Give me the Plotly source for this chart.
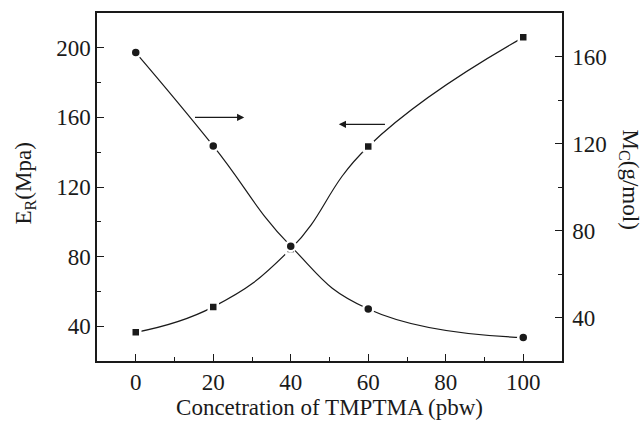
import plotly.graph_objects as go

# Data
conc = [0, 20, 40, 60, 100]                 # Concentration of TMPTMA (pbw)
er_mpa = [36.5, 51.1, 84.4, 143.3, 206.0]   # E_R (MPa), left axis, squares
mc_gmol = [161.8, 118.9, 72.8, 43.9, 30.8]  # M_C (g/mol), right axis, circles

x_ticks = [0, 20, 40, 60, 80, 100]
left_ticks = [40, 80, 120, 160, 200]
right_ticks = [40, 80, 120, 160]

FONT = "Liberation Serif"
INK = "#1a1a1a"

fig = go.Figure()
fig.add_trace(go.Scatter(
    x=conc, y=er_mpa, mode="lines+markers",
    line=dict(color=INK, width=1.2, shape="spline", smoothing=1.3),
    marker=dict(symbol="square", size=9, color=INK, line=dict(color="white", width=2.5)),
    yaxis="y", showlegend=False))
fig.add_trace(go.Scatter(
    x=conc, y=mc_gmol, mode="lines+markers",
    line=dict(color=INK, width=1.2, shape="spline", smoothing=1.3),
    marker=dict(symbol="circle", size=10, color=INK, line=dict(color="white", width=2.5)),
    yaxis="y2", showlegend=False))

axis_common = dict(showline=True, linecolor=INK, linewidth=1.5, ticks="inside",
                   ticklen=7, tickwidth=1.2, tickcolor=INK, showgrid=False, zeroline=False,
                   automargin=False,
                   tickfont=dict(family=FONT, size=23, color=INK))

fig.update_layout(
    width=644, height=422,
    margin=dict(l=97, r=82, t=13, b=61),
    paper_bgcolor="white", plot_bgcolor="white",
    xaxis=dict(range=[-10, 110], tickvals=x_ticks, mirror=True,
               minor=dict(ticks="inside", ticklen=4, dtick=10, tick0=0, tickcolor=INK),
               title=dict(text="Concetration of TMPTMA (pbw)", font=dict(family=FONT, size=23, color=INK),
                          standoff=2),
               **axis_common),
    yaxis=dict(range=[20, 220], tickvals=left_ticks,
               minor=dict(ticks="inside", ticklen=4, dtick=20, tick0=0, tickcolor=INK),
               **axis_common),
    yaxis2=dict(range=[20, 180], tickvals=right_ticks, overlaying="y", side="right",
                ticklabelstandoff=4,
                minor=dict(ticks="inside", ticklen=4, dtick=20, tick0=0, tickcolor=INK),
                **axis_common),
)

# Axis titles as annotations (right one reads top-to-bottom)
fig.add_annotation(xref="paper", yref="paper", x=-0.155, y=0.51, xanchor="center", yanchor="middle",
                   text="E<sub>R</sub>(Mpa)", textangle=-90, showarrow=False,
                   font=dict(family=FONT, size=23, color=INK))
fig.add_annotation(xref="paper", yref="paper", x=1.145, y=0.52, xanchor="center", yanchor="middle",
                   text="M<sub>C</sub>(g/mol)", textangle=90, showarrow=False,
                   font=dict(family=FONT, size=23, color=INK))

# Arrows pointing to the respective axes
fig.add_annotation(x=28, y=160, ax=14.9, ay=160, xref="x", yref="y", axref="x", ayref="y",
                   text="", showarrow=True, arrowhead=2, arrowsize=1.2, arrowwidth=1.2, arrowcolor=INK)
fig.add_annotation(x=52.4, y=156, ax=64.7, ay=156, xref="x", yref="y", axref="x", ayref="y",
                   text="", showarrow=True, arrowhead=2, arrowsize=1.2, arrowwidth=1.2, arrowcolor=INK)

fig.write_html("out.html")
